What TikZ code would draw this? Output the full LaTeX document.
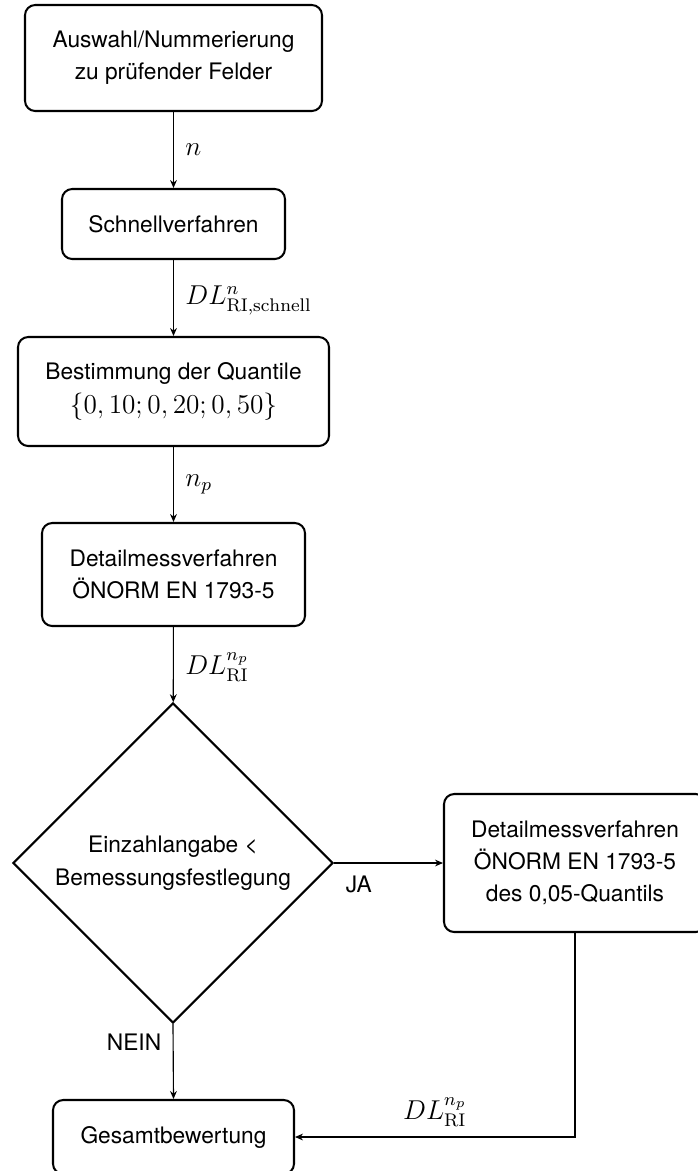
\documentclass[tikz,border=0pt]{standalone}
\usepackage{fontspec}
\newfontfamily\helv{TeX Gyre Heros}
\usetikzlibrary{shapes.geometric,arrows.meta}
\begin{document}
\begin{tikzpicture}[x=0.44pt,y=-0.44pt,
  box/.style={draw,line width=0.9pt,rounded corners=4.5pt,align=center,
    font=\helv\fontsize{10}{14}\selectfont,inner sep=0pt},
  dec/.style={draw,diamond,aspect=1,line width=0.9pt,align=center,
    font=\helv\fontsize{10}{14.5}\selectfont,inner sep=0pt,
    minimum width=140.8pt,minimum height=140.8pt},
  conn/.style={line width=0.5pt,-{Stealth[length=3.5pt,width=3pt]}},
  lab/.style={inner sep=0pt,font=\fontsize{11.5}{14}\selectfont},
  tlab/.style={inner sep=0pt,font=\helv\fontsize{10}{12}\selectfont}
]
\useasboundingbox (0,0) rectangle (697,1171);

\node[box,minimum width=130.68pt,minimum height=46.64pt] (b1) at (173.5,58)
  {Auswahl/Nummerierung\\zu prüfender Felder};
\node[box,minimum width=98.12pt,minimum height=30.8pt] (b2) at (173.5,224)
  {Schnellverfahren};
\node[box,minimum width=136.84pt,minimum height=47.96pt] (b3) at (173.5,391.5)
  {Bestimmung der Quantile\\[1pt]{\fontsize{11.5}{14}\selectfont$\{0,10;0,20;0,50\}$}};
\node[box,minimum width=115.72pt,minimum height=45.32pt] (b4) at (173.5,574.5)
  {Detailmessverfahren\\ÖNORM EN 1793-5};
\node[dec] (d) at (173,863)
  {Einzahlangabe <\\Bemessungsfestlegung};
\node[box,minimum width=115.28pt,minimum height=60.72pt] (r) at (575,863)
  {Detailmessverfahren\\ÖNORM EN 1793-5\\des 0,05-Quantils};
\node[box,minimum width=106.04pt,minimum height=32.56pt] (g) at (173.5,1137)
  {Gesamtbewertung};

\draw[conn] (b1) -- node[lab,midway,anchor=west,xshift=5pt] {$n$} (b2);
\draw[conn] (b2) -- node[lab,midway,anchor=west,xshift=5pt,yshift=-1pt] {$DL^{n}_{\mathrm{RI,schnell}}$} (b3);
\draw[conn] (b3) -- node[lab,midway,anchor=west,xshift=5pt] {$n_p$} (b4);
\draw[conn] (b4) -- node[lab,midway,anchor=west,xshift=5pt,yshift=-1pt] {$DL^{n_p}_{\mathrm{RI}}$} (d);
\draw[conn] (d.east) -- (r.west);
\node[tlab,anchor=north west] (ja) at ([xshift=5pt,yshift=-5.5pt]d.east) {JA};
\draw[conn] (d.south) -- (g.north);
\node[tlab,anchor=north east] (nein) at ([xshift=-5pt,yshift=-4pt]d.south) {NEIN};
\draw[conn] (r.south) |- node[lab,pos=0.75,anchor=south,yshift=4.4pt] {$DL^{n_p}_{\mathrm{RI}}$} (g.east);
\end{tikzpicture}
\end{document}
